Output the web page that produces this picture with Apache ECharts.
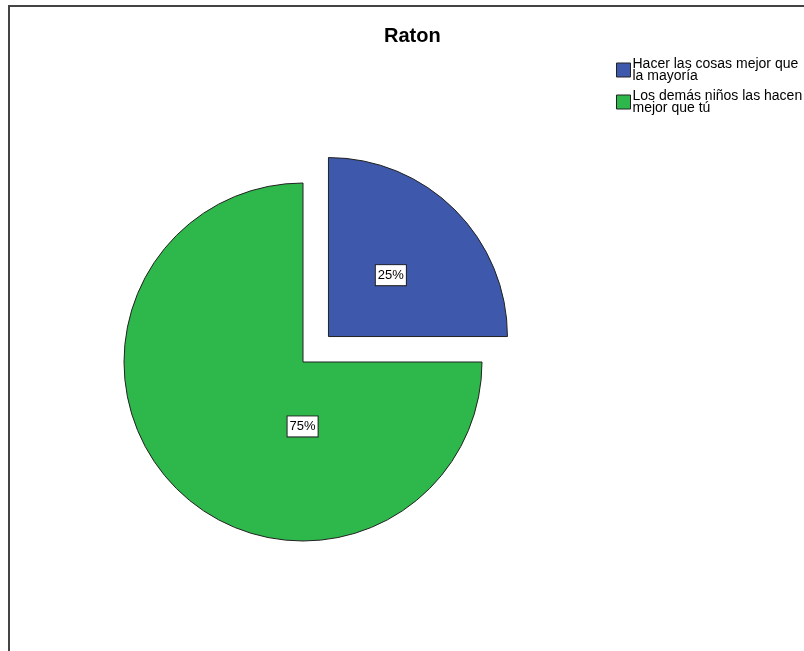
<!DOCTYPE html>
<html><head><meta charset="utf-8">
<script src="https://cdn.jsdelivr.net/npm/echarts@6/dist/echarts.min.js"></script>
<style>html,body{margin:0;padding:0;background:#fff}#c{width:804px;height:651px}</style>
</head><body><div id="c"></div>
<script>
const categories = ["Hacer las cosas mejor que\nla mayoría", "Los demás niños las hacen\nmejor que tú"];
const values = [25, 75];
const colors = ["#3e58ac", "#2eb84b"];
const labelOffsets = [[-3, 4], [65, -1]];

const chart = echarts.init(document.getElementById('c'), null, {renderer: 'canvas'});
chart.setOption({
  animation: false,
  backgroundColor: '#fff',
  title: {
    text: 'Raton', left: 384, top: 26, padding: 0,
    textStyle: {fontFamily: 'Arial, Liberation Sans', fontSize: 20, fontWeight: 'bold', color: '#000'}
  },
  graphic: [{
    type: 'polyline', silent: true,
    shape: {points: [[9, 700], [9, 6], [900, 6]]},
    style: {stroke: '#444', lineWidth: 2, fill: null}
  }],
  legend: {
    orient: 'vertical', left: 616, top: 57, padding: 0, itemWidth: 14, itemHeight: 14, itemGap: 6,
    icon: 'rect', selectedMode: false,
    itemStyle: {borderColor: '#222', borderWidth: 1},
    textStyle: {fontFamily: 'Arial, Liberation Sans', fontSize: 14, lineHeight: 12, color: '#000', padding: [0, 0, 0, -3]}
  },
  series: [{
    type: 'pie',
    center: [303, 362], radius: 179,
    startAngle: 90, clockwise: true,
    selectedMode: 'single', selectedOffset: 36,
    emphasis: {disabled: true},
    itemStyle: {borderColor: '#222', borderWidth: 1},
    label: {
      position: 'inside', formatter: '{d}%',
      fontFamily: 'Arial, Liberation Sans', fontSize: 13, color: '#000',
      backgroundColor: '#fff', borderColor: '#222', borderWidth: 1, padding: [4, 2, 3, 2]
    },
    labelLine: {show: false},
    data: categories.map((n, i) => ({
      name: n, value: values[i], selected: i === 0,
      itemStyle: {color: colors[i]},
      label: {offset: labelOffsets[i]},
      select: {label: {offset: labelOffsets[i]}, itemStyle: {color: colors[i], borderColor: '#222', borderWidth: 1}}
    }))
  }]
});
</script></body></html>
